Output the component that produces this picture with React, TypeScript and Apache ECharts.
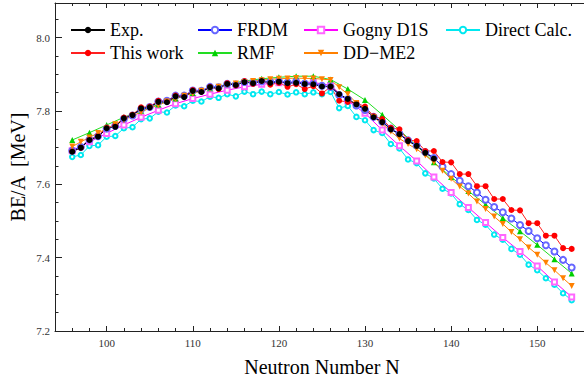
import React, { useEffect, useRef } from "react";
import * as echarts from "echarts";

// Neutron numbers
const nAll = [96,97,98,99,100,101,102,103,104,105,106,107,108,109,110,111,112,113,114,115,116,117,118,119,120,121,122,123,124,125,126,127,128,129,130,131,132,133,134,135,136,137,138,139,140,141,142,143,144,145,146,147,148,149,150,151,152,153,154];
const nExp = nAll.slice(0, 43); // 96..138
const nEven = [96,98,100,102,104,106,108,110,112,114,116,118,120,122,124,126,128,130,132,134,136,138,140,142,144,146,148,150,152,154];

// Tick values
const xMajorTicks = [100, 110, 120, 130, 140, 150];
const xMinorTicks = [96, 98, 102, 104, 106, 108, 112, 114, 116, 118, 122, 124, 126, 128, 132, 134, 136, 138, 142, 144, 146, 148, 152, 154];

const expVals = [7.689,7.700,7.721,7.730,7.753,7.757,7.780,7.789,7.807,7.810,7.825,7.824,7.840,7.838,7.855,7.852,7.865,7.862,7.874,7.871,7.879,7.876,7.882,7.877,7.880,7.876,7.877,7.874,7.873,7.867,7.867,7.846,7.833,7.818,7.806,7.783,7.770,7.750,7.737,7.718,7.705,7.686,7.670];

const thisWorkVals = [7.690,7.700,7.722,7.732,7.755,7.760,7.782,7.790,7.810,7.812,7.828,7.826,7.842,7.840,7.857,7.853,7.866,7.860,7.876,7.870,7.882,7.874,7.883,7.872,7.877,7.866,7.873,7.860,7.868,7.848,7.866,7.828,7.825,7.822,7.812,7.786,7.778,7.754,7.750,7.721,7.718,7.691,7.691,7.661,7.660,7.628,7.628,7.595,7.595,7.560,7.560,7.530,7.529,7.494,7.494,7.460,7.460,7.426,7.424];

const frdmVals = [7.692,7.702,7.722,7.731,7.752,7.759,7.779,7.788,7.805,7.811,7.826,7.828,7.842,7.842,7.856,7.855,7.866,7.865,7.874,7.872,7.879,7.877,7.881,7.879,7.881,7.878,7.879,7.875,7.874,7.869,7.866,7.843,7.832,7.815,7.803,7.784,7.771,7.752,7.738,7.720,7.706,7.688,7.672,7.648,7.628,7.610,7.595,7.578,7.558,7.538,7.524,7.507,7.489,7.473,7.453,7.434,7.417,7.394,7.373];

const rmfVals = [7.721,7.741,7.762,7.783,7.801,7.818,7.834,7.849,7.862,7.873,7.882,7.888,7.892,7.895,7.895,7.886,7.860,7.830,7.790,7.748,7.705,7.660,7.620,7.582,7.545,7.508,7.472,7.435,7.396,7.357];

const gognyVals = [7.692,7.716,7.739,7.762,7.783,7.802,7.820,7.834,7.846,7.857,7.866,7.873,7.877,7.879,7.878,7.870,7.828,7.794,7.748,7.705,7.664,7.620,7.578,7.537,7.496,7.455,7.417,7.377,7.334,7.293];

const ddme2Vals = [7.703,7.716,7.728,7.740,7.752,7.764,7.775,7.787,7.797,7.808,7.816,7.826,7.833,7.842,7.848,7.855,7.861,7.866,7.871,7.875,7.879,7.882,7.884,7.887,7.888,7.889,7.890,7.889,7.889,7.887,7.885,7.865,7.846,7.822,7.805,7.783,7.765,7.744,7.725,7.710,7.696,7.679,7.660,7.637,7.615,7.594,7.575,7.553,7.533,7.512,7.492,7.470,7.450,7.428,7.408,7.386,7.366,7.344,7.323];

const directVals = [7.675,7.680,7.705,7.707,7.730,7.732,7.753,7.756,7.778,7.780,7.798,7.796,7.815,7.813,7.828,7.826,7.839,7.836,7.846,7.840,7.853,7.846,7.853,7.846,7.852,7.845,7.851,7.846,7.851,7.846,7.852,7.808,7.814,7.784,7.775,7.748,7.740,7.710,7.698,7.668,7.658,7.630,7.616,7.588,7.575,7.546,7.530,7.503,7.490,7.463,7.449,7.424,7.408,7.381,7.366,7.344,7.326,7.303,7.284];

const xTitle = "Neutron Number N";
const yTitle = "BE/A  [MeV]";

const FONT = "Liberation Serif, Times New Roman, serif";

const pair = (xs: number[], ys: number[]) => ys.map((v, i) => [xs[i], v]);

export default function App() {
  const ref = useRef<HTMLDivElement>(null);
  useEffect(() => {
    if (!ref.current) return;
    const chart = echarts.init(ref.current, undefined, { renderer: "svg" });
    const xMin = 94, xMax = 155.43, yMin = 7.2, yMax = 8.0947;
    const AX = "#222";
    const tickLabel = { fontFamily: FONT, fontSize: 11, color: "#333" };
    const legendBase = {
      itemWidth: 34,
      itemHeight: 8,
      padding: 0,
      itemGap: 0,
      textStyle: { fontFamily: FONT, fontSize: 18, color: "#000" },
    };
    const lg = (name: string, left: number, top: number) => ({ ...legendBase, data: [name], left, top });
    const xAx = (position: string, ticks: number[], len: number, labels: boolean, showLine: boolean) => ({
      type: "value",
      position,
      min: xMin,
      max: xMax,
      axisLine: { show: showLine, onZero: false, lineStyle: { color: AX, width: 1 } },
      axisTick: { show: true, inside: true, length: len, customValues: ticks, lineStyle: { color: AX } },
      splitLine: { show: false },
      axisLabel: labels
        ? { ...tickLabel, margin: 6, customValues: ticks, formatter: (v: number) => String(v) }
        : { show: false },
    });
    const mk = (name: string, data: any, color: string, lineColor: string, symbol: string, size: number, extra: any = {}) => ({
      name,
      type: "line",
      xAxisIndex: 0,
      data,
      symbol,
      symbolSize: size,
      showSymbol: true,
      showAllSymbol: true,
      lineStyle: { color: lineColor, width: 1 },
      itemStyle: { color, borderWidth: 1 },
      emphasis: { disabled: true },
      ...extra,
    });
    chart.setOption({
      animation: false,
      backgroundColor: "#fff",
      grid: { left: 55, top: 3, right: 0, bottom: 52 },
      legend: [
        lg("Exp.", 70, 21),
        lg("This work", 70, 44),
        lg("FRDM", 197, 21),
        lg("RMF", 197, 44),
        lg("Gogny D1S", 303, 21),
        lg("DD\u2212ME2", 303, 44),
        lg("Direct Calc.", 445, 21),
      ],
      xAxis: [
        xAx("bottom", xMajorTicks, 5, true, true),
        xAx("bottom", xMinorTicks, 3, false, false),
        xAx("top", xMajorTicks, 5, false, true),
        xAx("top", xMinorTicks, 3, false, false),
      ],
      yAxis: {
        type: "value",
        min: yMin,
        max: yMax,
        interval: 0.2,
        axisLine: { show: true, lineStyle: { color: AX, width: 1 } },
        axisTick: { show: true, inside: true, length: 7, lineStyle: { color: AX } },
        minorTick: { show: true, splitNumber: 4, length: 3.5, lineStyle: { color: AX } },
        splitLine: { show: false },
        axisLabel: {
          ...tickLabel,
          margin: 5,
          showMaxLabel: false,
          formatter: (v: number) => v.toFixed(1),
        },
      },
      graphic: [
        {
          type: "text",
          x: 322,
          y: 367,
          style: { text: xTitle, font: `20px ${FONT}`, fill: "#000", align: "center", verticalAlign: "middle" },
        },
        {
          type: "text",
          x: 18,
          y: 167,
          rotation: Math.PI / 2,
          style: { text: yTitle, font: `20px ${FONT}`, fill: "#000", align: "center", verticalAlign: "middle" },
        },
      ],
      series: [
        mk("Direct Calc.", pair(nAll, directVals), "#00e8f0", "#00e8f0", "emptyCircle", 4.5),
        mk("Gogny D1S", pair(nEven, gognyVals), "#ff66ff", "#ff00ff", "emptyRect", 5),
        mk("RMF", pair(nEven, rmfVals), "#00d000", "#22dd22", "triangle", 6),
        mk("FRDM", pair(nAll, frdmVals), "#6666ff", "#0000ff", "emptyCircle", 6),
        mk("This work", pair(nAll, thisWorkVals), "#ff0000", "#ff2020", "circle", 6, { itemStyle: { color: "#ff0000", borderWidth: 0 } }),
        mk("DD\u2212ME2", pair(nAll, ddme2Vals), "#ff8000", "#ff8000", "triangle", 6, { symbolRotate: 180, itemStyle: { color: "#ff8000", borderWidth: 0 } }),
        mk("Exp.", pair(nExp, expVals), "#000000", "#000000", "circle", 6, { itemStyle: { color: "#000", borderWidth: 0 } }),
      ],
    });
    return () => chart.dispose();
  }, []);
  return <div ref={ref} style={{ position: "fixed", left: 0, top: 0, width: 584, height: 383, background: "#fff" }} />;
}
